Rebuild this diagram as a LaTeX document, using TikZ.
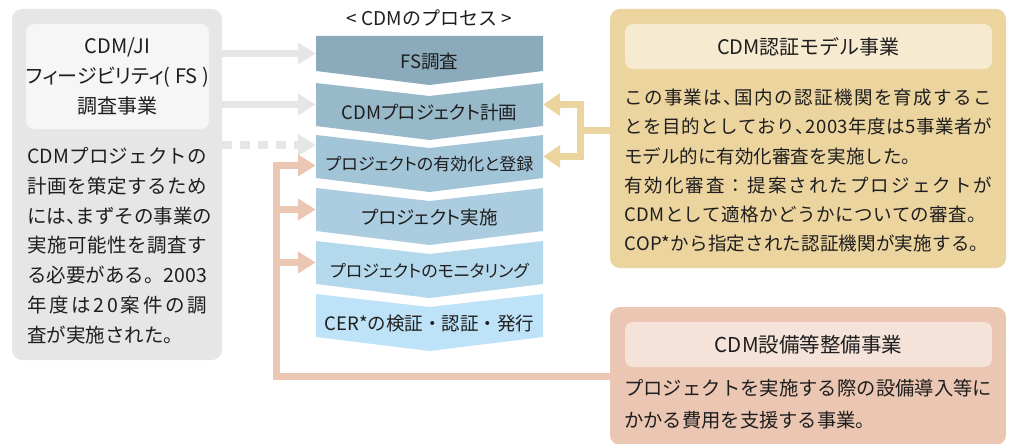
\documentclass[tikz,border=0pt]{standalone}
\usepackage{fontspec}
\setmainfont{Noto Sans CJK JP}
\newfontfamily\pfont[RawFeature=+palt]{Noto Sans CJK JP}
\usetikzlibrary{arrows.meta,calc}
\definecolor{ink}{HTML}{1E1E1E}
\definecolor{grayfill}{HTML}{E6E6E6}
\definecolor{grayin}{HTML}{F6F6F6}
\definecolor{yelfill}{HTML}{ECD49F}
\definecolor{yelin}{HTML}{F6EAD0}
\definecolor{salfill}{HTML}{EBC6B2}
\definecolor{salin}{HTML}{F5E3D9}
\definecolor{chevA}{HTML}{8BABBC}
\definecolor{chevB}{HTML}{97B9CA}
\definecolor{chevC}{HTML}{A1C4D6}
\definecolor{chevD}{HTML}{ABCDDF}
\definecolor{chevE}{HTML}{B4D8EC}
\definecolor{chevF}{HTML}{BEE3F8}
\newcommand{\Jline}[2]{\hbox to #1{\JlA#2\relax}}
\def\JlA#1{#1\JlB}
\def\JlB#1{\ifx\relax#1\else\hfil#1\expandafter\JlB\fi}
\def\hc{{\pfont 、}}
\begin{document}
\begin{tikzpicture}[x=1pt,y=-1pt,
box/.style={rounded corners=10pt,inner sep=0pt},
headbox/.style={rounded corners=8pt,inner sep=0pt,text=ink,align=center},
bodytext/.style={inner sep=0pt,anchor=north west,align=left,text=ink},
chevbox/.style={minimum width=227pt,inner sep=0pt},
chevtext/.style={inner sep=0pt,text=ink,font=\pfont\fontsize{17}{20}\selectfont},
grayarrow/.style={line width=7.5pt,draw=grayfill,-{Triangle[length=18pt,width=21pt]}},
salarrow/.style={line width=7pt,draw=salfill,-{Triangle[length=18pt,width=21pt]}},
yelline/.style={line width=7pt,draw=yelfill},
yelarrow/.style={yelline,-{Triangle[length=17pt,width=22pt]}}]
\useasboundingbox(0,0)rectangle(1012,444);
\newcommand{\Chev}[6]{
\fill[#2](316,#3)--(429.5,#3+#5)--(543,#3)--(543,#4)--(429.5,#4+14)--(316,#4)--cycle;
\node[chevbox,minimum height={#4-#3}](#1)at(429.5,{(#3+#4)/2}){};
\node[chevtext](#1t)at(429.5,{(#3+#4+14)/2+1}){#6};}
\node[chevtext,font=\fontsize{19}{20}\selectfont](proc)at(429.5,18){< CDMのプロセス >};
\Chev{fs}{chevA}{36}{71}{0}{\fontsize{18.5}{20}\selectfont FS調査}
\Chev{plan}{chevB}{83}{126}{13}{\fontsize{18.5}{20}\selectfont CDMプロジェクト計画}
\Chev{valid}{chevC}{135}{178}{13}{プロジェクトの有効化と登録}
\Chev{impl}{chevD}{188}{231}{13}{\fontsize{18.5}{20}\selectfont プロジェクト実施}
\Chev{monitor}{chevE}{241}{284}{13}{プロジェクトのモニタリング}
\Chev{cer}{chevF}{294}{337}{13}{\normalfont\fontsize{18.5}{20}\selectfont CER*の検証・認証・発行}
\node[box,fill=grayfill,minimum width=210pt,minimum height=351pt](lbox)at(117,184.5){};
\node[headbox,fill=grayin,minimum width=181pt,minimum height=105pt,font=\pfont\fontsize{20}{30}\selectfont](lhead)at(117.5,76.5){CDM/JI\\フィージビリティ( FS )\\調査事業};
\node[bodytext,font=\fontsize{19.5}{29.8}\selectfont](lbody)at(27,147){\Jline{180pt}{CDMプロジェクトの}\\\Jline{180pt}{計画を策定するため}\\\Jline{180pt}{には\hc まずその事業の}\\\Jline{180pt}{実施可能性を調査す}\\\Jline{180pt}{る必要がある。2003}\\\Jline{180pt}{年度は20案件の調}\\査が実施された。};
\node[box,fill=yelfill,minimum width=396pt,minimum height=259pt](ybox)at(808,138.5){};
\node[headbox,fill=yelin,minimum width=367pt,minimum height=45pt,font=\fontsize{20}{20}\selectfont](yhead)at(808.5,46.5){CDM認証モデル事業};
\node[bodytext,font=\fontsize{18.5}{29.2}\selectfont](ybody)at(624,89){\Jline{368pt}{この事業は\hc 国内の認証機関を育成するこ}\\\Jline{368pt}{とを目的としており\hc 2003年度は5事業者が}\\モデル的に有効化審査を実施した。\\\Jline{368pt}{有効化審査：提案されたプロジェクトが}\\\Jline{362pt}{CDMとして適格かどうかについての審査。}\\\Jline{364pt}{COP*から指定された認証機関が実施する。}};
\node[box,fill=salfill,minimum width=396pt,minimum height=138pt](sbox)at(808,376){};
\node[headbox,fill=salin,minimum width=367pt,minimum height=45pt,font=\fontsize{20.5}{20}\selectfont](shead)at(808.5,344.5){CDM設備等整備事業};
\node[bodytext,font=\fontsize{19.3}{32}\selectfont](sbody)at(624,378.5){\Jline{368pt}{プロジェクトを実施する際の設備導入等に}\\かかる費用を支援する事業。};
\draw[grayarrow](lbox.east|-fs.west)--(fs.west);
\draw[grayarrow](lbox.east|-plan.west)--(plan.west);
\coordinate(vd)at([yshift=11.5pt]valid.west);
\draw[grayarrow,dash pattern=on 10pt off 8pt](lbox.east|-vd)--(vd);
\coordinate(sv)at([yshift=-9pt]valid.west);
\coordinate(sfoot)at([xshift=-39pt]sv);
\draw[salarrow](sbox.west)-|(sfoot)--(sv);
\draw[salarrow](sfoot|-impl.west)--(impl.west);
\draw[salarrow](sfoot|-monitor.west)--(monitor.west);
\coordinate(yj)at([xshift=37pt]$(plan.east)!.5!(valid.east)$);
\draw[yelline](ybox.west|-yj)--(yj);
\draw[yelarrow](yj)|-(plan.east);
\draw[yelarrow](yj)|-(valid.east);
\end{tikzpicture}
\end{document}
